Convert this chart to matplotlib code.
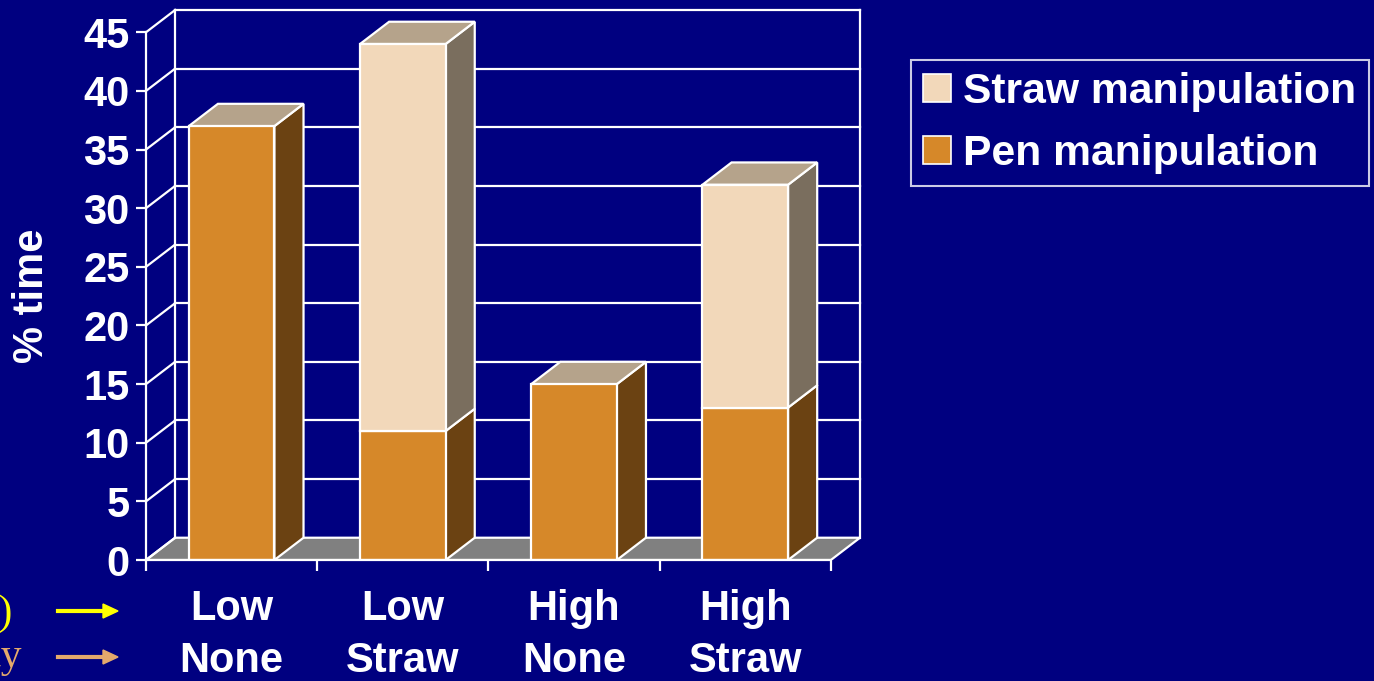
import numpy as np
import matplotlib.pyplot as plt
from matplotlib.patches import Polygon, Rectangle, Patch

# Данные: доля времени (%) по группам
groups = ['Low\nNone', 'Low\nStraw', 'High\nNone', 'High\nStraw']
pen = [37, 11, 15, 13]
straw = [0, 33, 0, 19]
yticks = list(range(0, 50, 5))

navy = '#000080'
pen_col = ('#D68829', '#6B4212', '#B5A38B')    # перед, бок, верх
straw_col = ('#F2D8BA', '#7A6E5E', '#B5A38B')
floor_col = '#808080'

plt.rcParams['font.family'] = ['Liberation Sans', 'DejaVu Sans']
plt.rcParams['font.weight'] = 'bold'

W, H = 1374, 681
fig = plt.figure(figsize=(W / 100, H / 100), dpi=100, facecolor=navy)
ax = fig.add_axes([146 / W, (H - 560) / H, (860 - 146) / W, (560 - 10) / H])
ax.set_facecolor(navy)

# глубина "3D" в единицах данных
dx, dy = 0.17, 1.9
n = len(groups)
ax.set_xlim(0, n + dx)
ax.set_ylim(0, 45 + dy)

lw = 1.6
ec = 'white'

# пол
ax.add_patch(Polygon([(0, 0), (n, 0), (n + dx, dy), (dx, dy)], closed=True,
                     facecolor=floor_col, edgecolor=ec, lw=lw, zorder=1))
# задняя стенка и сетка
for y in yticks:
    ax.plot([0, dx], [y, y + dy], color=ec, lw=lw, zorder=1, clip_on=False)
    if y > 0:
        ax.plot([dx, n + dx], [y + dy, y + dy], color=ec, lw=lw, zorder=1, clip_on=False)
ax.plot([dx, dx], [dy, 45 + dy], color=ec, lw=lw, zorder=1, clip_on=False)
ax.plot([n + dx, n + dx], [dy, 45 + dy], color=ec, lw=lw, zorder=1, clip_on=False)


def box(x0, x1, y0, y1, cols, top):
    front, side, up = cols
    ax.add_patch(Polygon([(x1, y0), (x1 + dx, y0 + dy), (x1 + dx, y1 + dy), (x1, y1)],
                         closed=True, facecolor=side, edgecolor=ec, lw=lw, zorder=3))
    if top:
        ax.add_patch(Polygon([(x0, y1), (x1, y1), (x1 + dx, y1 + dy), (x0 + dx, y1 + dy)],
                             closed=True, facecolor=up, edgecolor=ec, lw=lw, zorder=3))
    ax.add_patch(Rectangle((x0, y0), x1 - x0, y1 - y0, facecolor=front,
                           edgecolor=ec, lw=lw, zorder=4))


bw = 0.5
for i in range(n):
    x0 = i + 0.5 - bw / 2
    x1 = i + 0.5 + bw / 2
    box(x0, x1, 0, pen[i], pen_col, top=straw[i] == 0)
    if straw[i] > 0:
        box(x0, x1, pen[i], pen[i] + straw[i], straw_col, top=True)

# оси
for s in ['top', 'right']:
    ax.spines[s].set_visible(False)
ax.spines['left'].set_bounds(0, 45)
ax.spines['bottom'].set_bounds(0, n)
for s in ['left', 'bottom']:
    ax.spines[s].set_color(ec)
    ax.spines[s].set_linewidth(lw)
    ax.spines[s].set_zorder(5)

ax.set_yticks(yticks)
ax.tick_params(axis='y', colors='white', labelsize=30, length=7, width=lw,
               direction='out', pad=5)
ax.set_xticks(range(n + 1))
ax.set_xticklabels([])
ax.tick_params(axis='x', which='major', colors='white', length=8, width=lw, direction='out')
ax.set_xticks(np.arange(n) + 0.5, minor=True)
ax.set_xticklabels(groups, minor=True, linespacing=1.38)
ax.tick_params(axis='x', which='minor', length=0, labelsize=30, colors='white', pad=21)

fig.text(32 / W, 1 - 296 / H, '% time', rotation=90, ha='center', va='center',
         color='white', fontsize=30, fontweight='bold')

# легенда
handles = [Patch(facecolor=straw_col[0], edgecolor='white', lw=1.2),
           Patch(facecolor=pen_col[0], edgecolor='white', lw=1.2)]
leg = fig.legend(handles, ['Straw manipulation', 'Pen manipulation'],
                 loc='upper left', bbox_to_anchor=(911 / W, 1 - 60 / H),
                 bbox_transform=fig.transFigure, borderaxespad=0,
                 fontsize=30.7, frameon=True, fancybox=False,
                 handlelength=0.65, handleheight=0.65, handletextpad=0.3,
                 borderpad=0.28, labelspacing=0.52)
leg.get_frame().set_facecolor(navy)
leg.get_frame().set_edgecolor('white')
leg.get_frame().set_linewidth(1.5)
for t in leg.get_texts():
    t.set_color('white')

# подписи факторов слева (обрезаны краем)
fig.text(13 / W, 1 - 614 / H, '(space)', ha='right', va='center', color='#FFFF00',
         fontsize=30, family='Liberation Serif', fontweight='normal')
fig.text(22 / W, 1 - 656 / H, 'availability', ha='right', va='center', color='#E4A96C',
         fontsize=30, family='Liberation Serif', fontweight='normal')
fig.add_artist(plt.Line2D([58 / W, 104 / W], [1 - 611 / H] * 2, color='#FFFF00', lw=3,
                          transform=fig.transFigure))
fig.add_artist(Polygon([(103 / W, 1 - 604 / H), (118 / W, 1 - 611 / H), (103 / W, 1 - 618 / H)],
                       closed=True, color='#FFFF00', transform=fig.transFigure))
fig.add_artist(plt.Line2D([58 / W, 104 / W], [1 - 657 / H] * 2, color='#E4A96C', lw=3,
                          transform=fig.transFigure))
fig.add_artist(Polygon([(103 / W, 1 - 650 / H), (118 / W, 1 - 657 / H), (103 / W, 1 - 664 / H)],
                       closed=True, color='#E4A96C', transform=fig.transFigure))

plt.savefig('out.png', dpi=100, facecolor=navy)
